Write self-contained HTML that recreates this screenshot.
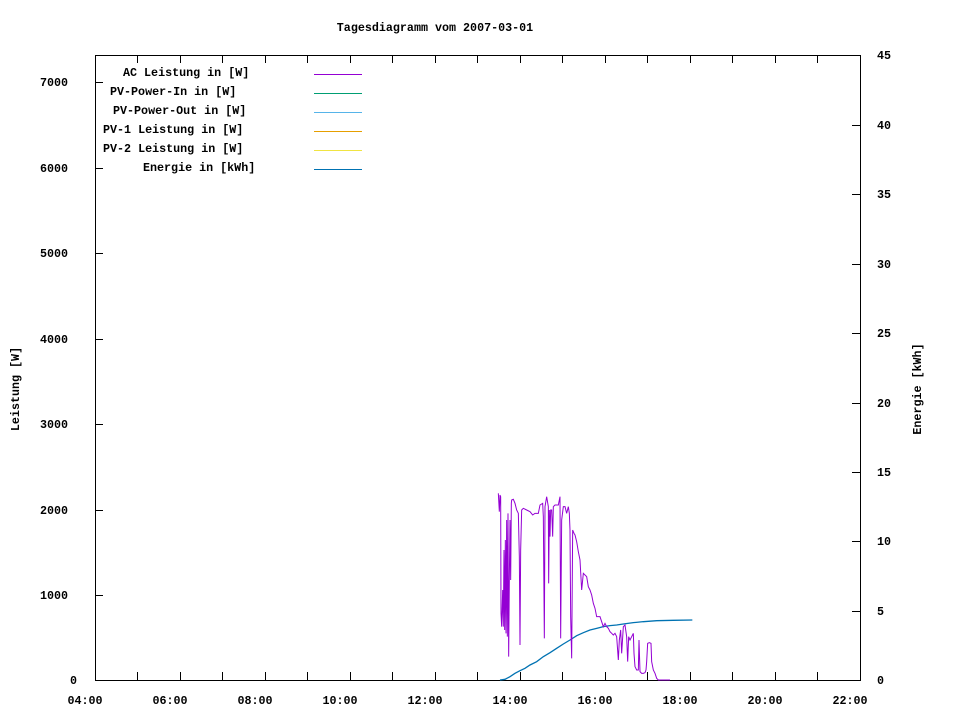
<!DOCTYPE html>
<html><head><meta charset="utf-8"><style>
body{margin:0;background:#fff}
svg text{font-family:"Liberation Mono",monospace;font-size:11.7px;font-weight:bold;fill:#000}
</style></head><body>
<svg width="960" height="720" xmlns="http://www.w3.org/2000/svg">
<rect width="960" height="720" fill="#fff"/>
<text x="435" y="31" text-anchor="middle">Tagesdiagramm vom 2007-03-01</text>
<rect x="95.5" y="55.5" width="765" height="625" fill="none" stroke="#000" stroke-width="1"/>
<g stroke="#000" stroke-width="1">
<path d="M95 595.5h8M95 510.5h8M95 424.5h8M95 339.5h8M95 253.5h8M95 168.5h8M95 82.5h8"/>
<path d="M860 611.5h-8M860 541.5h-8M860 472.5h-8M860 403.5h-8M860 333.5h-8M860 264.5h-8M860 194.5h-8M860 125.5h-8"/>
<path d="M137.5 680v-8M180.5 680v-8M222.5 680v-8M265.5 680v-8M307.5 680v-8M350.5 680v-8M392.5 680v-8M435.5 680v-8M477.5 680v-8M520.5 680v-8M562.5 680v-8M605.5 680v-8M647.5 680v-8M690.5 680v-8M732.5 680v-8M775.5 680v-8M817.5 680v-8"/>
<path d="M137.5 55v8M180.5 55v8M222.5 55v8M265.5 55v8M307.5 55v8M350.5 55v8M392.5 55v8M435.5 55v8M477.5 55v8M520.5 55v8M562.5 55v8M605.5 55v8M647.5 55v8M690.5 55v8M732.5 55v8M775.5 55v8M817.5 55v8"/>
</g>
<g text-anchor="end">
<text x="68" y="599">1000</text><text x="68" y="514">2000</text><text x="68" y="428">3000</text><text x="68" y="343">4000</text><text x="68" y="257">5000</text><text x="68" y="172">6000</text><text x="68" y="86">7000</text>
</g>
<text x="70" y="684">0</text>
<g text-anchor="start">
<text x="877" y="684">0</text><text x="877" y="615">5</text><text x="877" y="545">10</text><text x="877" y="476">15</text><text x="877" y="407">20</text><text x="877" y="337">25</text><text x="877" y="268">30</text><text x="877" y="198">35</text><text x="877" y="129">40</text><text x="877" y="59">45</text>
</g>
<g text-anchor="middle">
<text x="85" y="704">04:00</text><text x="170" y="704">06:00</text><text x="255" y="704">08:00</text><text x="340" y="704">10:00</text><text x="425" y="704">12:00</text><text x="510" y="704">14:00</text><text x="595" y="704">16:00</text><text x="680" y="704">18:00</text><text x="765" y="704">20:00</text><text x="850" y="704">22:00</text>
</g>
<text transform="translate(19,389) rotate(-90)" text-anchor="middle">Leistung [W]</text>
<text transform="translate(921,389) rotate(-90)" text-anchor="middle">Energie [kWh]</text>
<g>
<text x="123" y="76">AC Leistung in [W]</text>
<text x="110" y="95">PV-Power-In in [W]</text>
<text x="113" y="114">PV-Power-Out in [W]</text>
<text x="103" y="133">PV-1 Leistung in [W]</text>
<text x="103" y="152">PV-2 Leistung in [W]</text>
<text x="143" y="171">Energie in [kWh]</text>
</g>
<g stroke-width="1">
<path d="M314 74.5h48" stroke="#9400d3"/>
<path d="M314 93.5h48" stroke="#009e73"/>
<path d="M314 112.5h48" stroke="#56b4e9"/>
<path d="M314 131.5h48" stroke="#e69f00"/>
<path d="M314 150.5h48" stroke="#f0e442"/>
<path d="M314 169.5h48" stroke="#0072b2"/>
</g>
<g transform="translate(490,480) scale(0.33333)">
<polyline fill="none" stroke="#0072b2" stroke-width="1.3" vector-effect="non-scaling-stroke" points="30,600 45,598 60,590 75,580 90,572 105,565 120,555 140,545 160,530 180,518 200,505 220,492 240,480 260,467 280,458 300,450 320,445 340,440 360,437 380,435 400,432 430,428 460,425 500,422 550,421 607,420"/>
<polyline fill="none" stroke="#9400d3" stroke-width="1" vector-effect="non-scaling-stroke" points="25,40 28,95 30,45 32,50 33,400 35,440 38,330 40,440 42,210 44,450 46,180 48,460 50,120 52,470 54,100 56,530 58,300 60,120 62,300 64,70 65,60 70,58 75,70 80,90 85,100 88,230 90,495 92,210 95,90 100,85 110,90 120,95 128,105 135,100 145,100 150,75 158,70 160,110 163,475 165,80 170,50 175,80 176,310 178,90 180,170 182,90 185,90 188,170 190,80 195,75 205,75 210,50 212,475 215,120 220,80 225,80 230,100 235,80 238,100 240,150 242,410 245,535 248,150 252,160 255,165 260,185 265,215 270,240 275,330 280,280 290,290 295,320 300,330 305,345 310,370 315,385 320,410 330,410 335,425 340,440 345,430 350,440 355,445 360,455 365,460 370,465 375,460 380,470 385,540 388,480 392,450 395,520 400,440 405,435 410,470 413,545 416,470 420,480 425,470 430,460 432,520 435,560 440,570 445,570 447,480 450,575 455,580 460,580 465,578 468,570 470,545 473,490 478,488 483,490 485,545 490,570 495,580 500,595 505,600 540,600"/>
</g>
</svg>
</body></html>
